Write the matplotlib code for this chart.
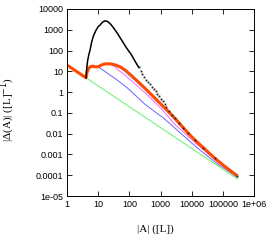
import numpy as np
import matplotlib; matplotlib.use("Agg")
import matplotlib.pyplot as plt
from matplotlib.ticker import FixedLocator, NullLocator

# values (log-log axes)
orange_x = [1, 4.07, 4.47, 5.01, 5.62, 6.61, 7.94, 10, 12.6, 16.6, 25.1, 34.7, 50.1,
            72.4, 126, 316, 851, 1585, 2884, 7762, 12589, 23442, 54954, 125893, 295121]
orange_y = [20, 4.9, 10, 14.1, 16.6, 17.8, 16.6, 16.6, 20, 22.9, 22.9, 20.4, 16.6,
            11.7, 5.6, 1.55, 0.35, 0.14, 0.055, 0.0105, 0.005, 0.00214, 0.00066, 0.00024, 0.000093]

black_x = [4.07, 4.27, 4.57, 5.01, 5.5, 6.17, 6.92, 8.32, 10, 11.5, 13.8, 16.6, 20,
           25.1, 31.6, 41.7, 56.2, 79.4, 117, 158, 200]
black_y = [4.9, 12.6, 31.6, 63, 107, 251, 468, 891, 1413, 1698, 2344, 2692, 2512,
           1862, 1202, 661, 324, 141, 62, 28, 15.5]

dots_x = [200, 229, 263, 302, 347, 398, 457, 525, 603, 692, 794, 912, 1047, 1202, 1349,
          1549, 1862, 2291, 2884, 3890, 5370, 7762, 12590, 23440, 54950, 295100]
dots_y = [15.5, 10.7, 7.6, 5.25, 4.0, 3.0, 2.4, 1.8, 1.41, 1.10, 0.83, 0.65, 0.48, 0.355, 0.27,
          0.20, 0.126, 0.079, 0.054, 0.033, 0.019, 0.0105, 0.005, 0.00214, 0.00066, 0.000093]

blue_x = [10, 14.1, 20, 31.6, 50.1, 91.2, 316, 1380, 3981, 16218, 63096, 295121]
blue_y = [16.6, 11.7, 7.94, 5.01, 3.02, 1.48, 0.26, 0.05, 0.012, 0.0019, 0.00038, 0.000079]

magenta_x = [26.3, 35.5, 50.1, 72.4, 316, 1072, 2884, 15849, 63096, 295121]
magenta_y = [22.4, 15.8, 10, 6.6, 0.95, 0.158, 0.028, 0.0028, 0.00048, 0.000085]

cyan_x = [44.7, 72.4, 316, 1072, 2884, 15849, 63096, 295121]
cyan_y = [17.8, 9.5, 1.26, 0.224, 0.045, 0.0035, 0.00054, 0.000089]

green_x = [4.07, 295121]
green_y = [4.9, 0.000066]

xticks = [1, 10, 100, 1000, 1e4, 1e5, 1e6]
xlabels = ["1", "10", "100", "1000", "10000", "100000", "1e+06"]
yticks = [1e-5, 1e-4, 1e-3, 1e-2, 1e-1, 1, 10, 100, 1000, 1e4]
ylabels = ["1e-05", "0.0001", "0.001", "0.01", "0.1", "1", "10", "100", "1000", "10000"]

plt.rcParams["font.family"] = ["Liberation Sans", "DejaVu Sans"]
fig = plt.figure(figsize=(2.75, 2.45), dpi=100)
ax = fig.add_axes([67/275, 49/245, 187/275, 187/245])

ax.plot(green_x, green_y, color="#66ee66", lw=0.7)
ax.plot(blue_x, blue_y, color="#6666ff", lw=0.7)
ax.plot(magenta_x, magenta_y, color="#ff66ff", lw=0.7)
ax.plot(cyan_x, cyan_y, color="#66ffff", lw=0.7)
ax.plot(orange_x, orange_y, color="#ff4a00", lw=2.2, solid_capstyle="butt")
ax.plot(black_x, black_y, color="black", lw=1.1)
ax.plot(dots_x, dots_y, "s", color="#222222", ms=1.3, mew=0)

ax.set_xscale("log"); ax.set_yscale("log")
ax.set_xlim(1, 1e6); ax.set_ylim(1e-5, 1e4)
ax.xaxis.set_major_locator(FixedLocator(xticks)); ax.xaxis.set_minor_locator(NullLocator())
ax.yaxis.set_major_locator(FixedLocator(yticks)); ax.yaxis.set_minor_locator(NullLocator())
ax.set_xticklabels(xlabels); ax.set_yticklabels(ylabels)
ax.tick_params(direction="in", top=True, right=True, length=3.5, width=0.6, labelsize=6.5, pad=3)
for s in ax.spines.values(): s.set_linewidth(0.7)

ax.set_xlabel("|A| ([L])", family="Liberation Serif", fontsize=8)
ax.set_ylabel("|Δ(A)| ([L]$^{-1}$)", family="Liberation Serif", fontsize=8)
ax.xaxis.set_label_coords(0.47, -0.15)
ax.yaxis.set_label_coords(-0.265, 0.46)

fig.savefig("out.png", dpi=100)
